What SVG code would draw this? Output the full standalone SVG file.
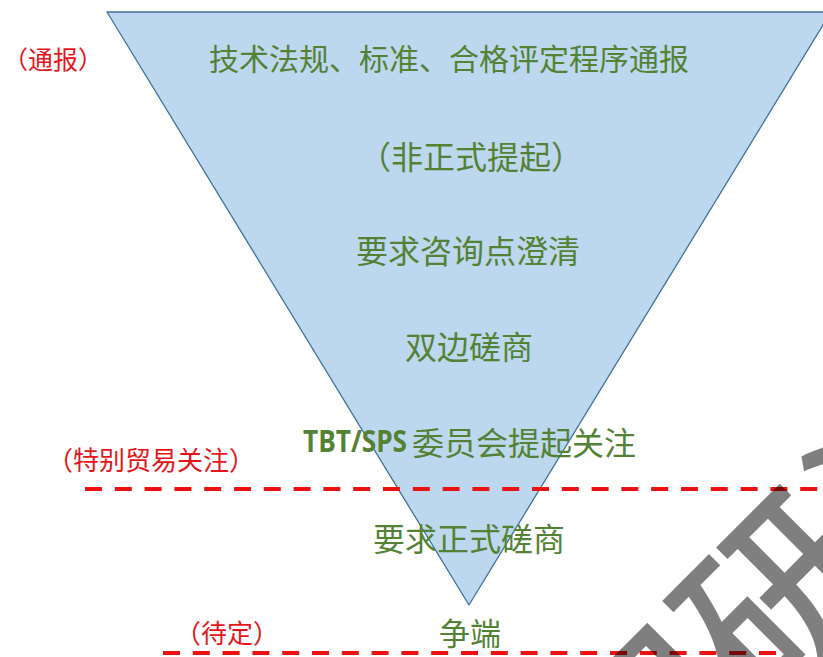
<svg xmlns="http://www.w3.org/2000/svg" width="823" height="657" viewBox="0 0 823 657">
<style>
.g{fill:#548235;font-family:"Noto Sans CJK SC","Noto Sans",sans-serif;text-anchor:middle;dominant-baseline:central;font-size:32px}
.r{fill:#E5161B;font-family:"Noto Sans CJK SC","Noto Sans",sans-serif;text-anchor:middle;dominant-baseline:central;font-size:26px}
.dash{stroke:#EE1111;stroke-width:4;stroke-dasharray:17 12.8;fill:none}
.wm{fill:#000;fill-opacity:0.5;font-family:"Noto Sans CJK SC",sans-serif;font-weight:500;font-size:185px;text-anchor:middle;dominant-baseline:central}
</style>
<rect width="823" height="657" fill="#fff"/>
<g id="funnel">
<polygon points="107,12 831,12 469,605" fill="#BDD7EE" stroke="#41719C" stroke-width="1.3" stroke-linejoin="round"/>
</g>
<g id="stage-notification"><text class="g" x="449" y="57" style="font-size:30px">技术法规、标准、合格评定程序通报</text></g>
<g id="stage-informal"><text class="g" x="471" y="155">（非正式提起）</text></g>
<g id="stage-enquiry"><text class="g" x="468" y="249">要求咨询点澄清</text></g>
<g id="stage-bilateral"><text class="g" x="469" y="345">双边磋商</text></g>
<g id="stage-committee">
<text x="303" y="452" textLength="104" lengthAdjust="spacingAndGlyphs" style="fill:#548235;font-family:'Open Sans','Liberation Sans',sans-serif;font-weight:700;font-size:30px">TBT/SPS</text>
<text class="g" x="412" y="441" style="text-anchor:start">委员会提起关注</text>
</g>
<g id="stage-formal"><text class="g" x="469" y="537">要求正式磋商</text></g>
<g id="stage-dispute"><text class="g" x="470" y="631" style="font-size:31px">争端</text></g>
<g id="labels">
<text class="r" x="53" y="58" style="font-size:25px">（通报）</text>
<text class="r" x="151" y="458">（特别贸易关注）</text>
<text class="r" x="227" y="631">（待定）</text>
</g>
<g id="connectors">
<line class="dash" x1="85" y1="489" x2="823" y2="489"/>
<line class="dash" x1="163" y1="653" x2="776" y2="653"/>
</g>
<g id="watermark">
<text class="wm" transform="translate(768,588) rotate(-45)">智研咨</text>
</g>
</svg>
